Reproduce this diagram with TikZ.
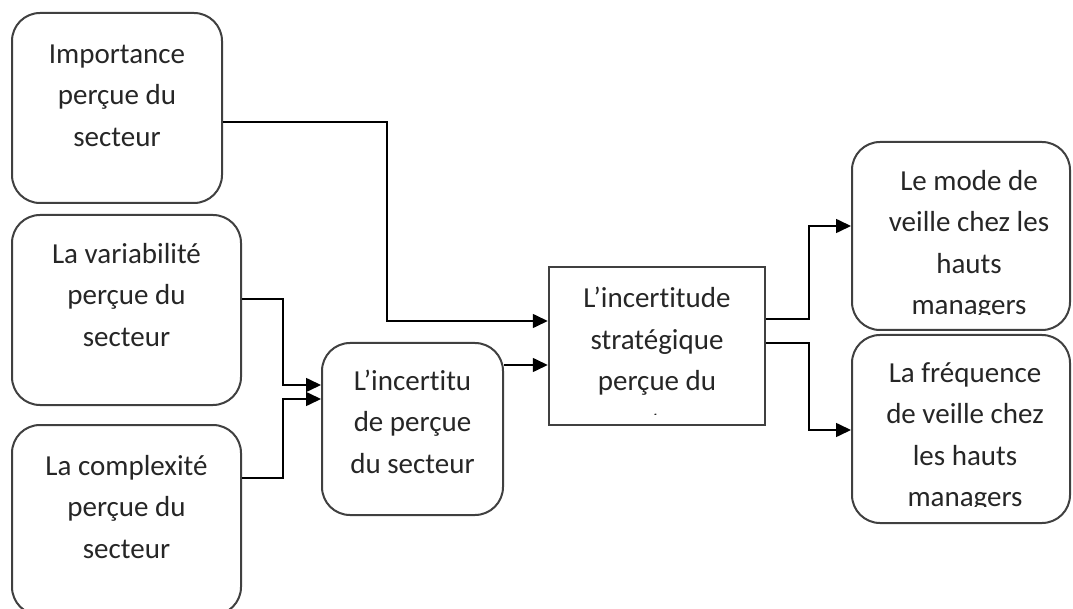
\documentclass[tikz,border=0pt]{standalone}
\usepackage{fontspec}
\setmainfont{Carlito}[Ligatures=NoCommon]
\usetikzlibrary{positioning}
\usetikzlibrary{arrows.meta}

\begin{document}
\begin{tikzpicture}[x=1pt,y=-1pt,
	rbox/.style={draw=black!75,line width=2pt,rounded corners=28pt,inner sep=0pt},
	sbox/.style={draw=black!75,line width=2.5pt,inner sep=0pt},
	txt/.style={align=center,inner sep=0pt,font=\fontsize{29}{41.5}\selectfont,text=black!85},
	fleche/.style={-{Triangle[length=15pt,width=14pt]},line width=1.6pt}]
	\useasboundingbox (0,0) rectangle (1073,609);

	% Place boxes
	\node [rbox,minimum width=210pt,minimum height=190pt] (imp) at (117,108) {};
	\node [rbox,minimum width=229pt,minimum height=190pt] (var) at (126.5,310) {};
	\node [rbox,minimum width=229pt,minimum height=190pt] (comp) at (126.5,520) {};
	\node [rbox,minimum width=181pt,minimum height=172pt] (inc) at (412.5,429) {};
	\node [sbox,minimum width=216pt,minimum height=158pt] (strat) at (657,346) {};
	\node [rbox,minimum width=218pt,minimum height=188pt] (mode) at (961,236) {};
	\node [rbox,minimum width=218pt,minimum height=188pt] (freq) at (961,429) {};

	% Texts, top aligned in their boxes
	\node [txt,below=22pt of imp.north] (imptxt) {\strut Importance\\perçue du\\secteur};
	\node [txt,below=20pt of var.north] (vartxt) {\strut La variabilité\\perçue du\\secteur};
	\node [txt,below=22pt of comp.north] (comptxt) {\strut La complexité\\perçue du\\secteur};
	\node [txt,below=19pt of inc.north] (inctxt) {\strut L’incertitu\\de perçue\\du secteur};
	\begin{scope}
		\clip (strat.north west) rectangle ([yshift=11.5pt]strat.south east);
		\node [txt,below=12.5pt of strat.north] (strattxt) {\strut L’incertitude\\stratégique\\perçue du\\secteur};
	\end{scope}
	\begin{scope}
		\clip (mode.north west) rectangle ([yshift=16.5pt]mode.south east);
		\node [txt,below=20pt of mode.north,xshift=8pt] (modetxt) {\strut Le mode de\\veille chez les\\hauts\\managers};
	\end{scope}
	\begin{scope}
		\clip (freq.north west) rectangle ([yshift=17.5pt]freq.south east);
		\node [txt,below=19pt of freq.north,xshift=4pt] (freqtxt) {\strut La fréquence\\de veille chez\\les hauts\\managers};
	\end{scope}

	% Connectors
	\draw [fleche] ([yshift=-14pt]imp.east) -- ++(164,0) |- ([yshift=25pt]strat.west);
	\draw [fleche] ([yshift=11pt]var.east) -- ++(41,0) |- ([yshift=44pt]inc.west);
	\draw [fleche] ([yshift=42pt]comp.east) -- ++(41,0) |- ([yshift=30pt]inc.west);
	\draw [fleche] ([yshift=64pt]inc.east) -- ([yshift=-19pt]strat.west);
	\draw [fleche] ([yshift=27pt]strat.east) -- ++(43,0) |- ([yshift=10pt]mode.west);
	\draw [fleche] ([yshift=3pt]strat.east) -- ++(43,0) |- ([yshift=-1pt]freq.west);
\end{tikzpicture}
\end{document}
